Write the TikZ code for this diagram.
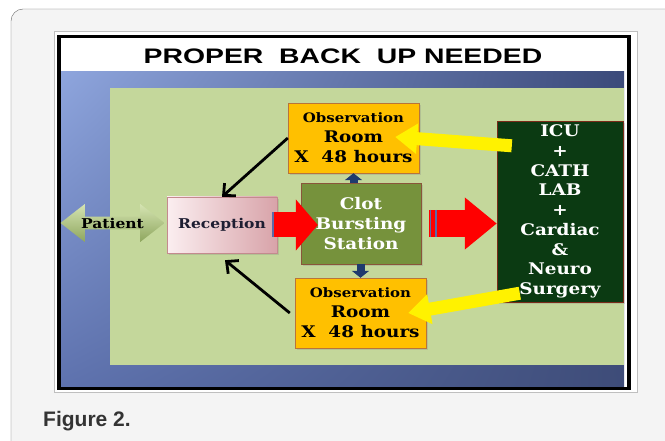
\documentclass[tikz,border=0pt]{standalone}
\usepackage{fontspec}
\setmainfont{DejaVu Serif}[FakeStretch=1.15]
\newfontfamily\headfont{Liberation Sans}[FakeStretch=1.35]
\newfontfamily\capfont{Liberation Sans}
\usetikzlibrary{arrows.meta,shapes.arrows,shadows,shadings,calc}
\definecolor{framebg}{HTML}{F4F4F4}
\definecolor{slidegreen}{HTML}{C4D79B}
\definecolor{blueUL}{HTML}{8EA5DD}
\definecolor{blueUR}{HTML}{3B4A7A}
\definecolor{blueLL}{HTML}{5E72AE}
\definecolor{blueLR}{HTML}{3E4C78}
\definecolor{obsorange}{HTML}{FFC000}
\definecolor{obsedge}{HTML}{B8743A}
\definecolor{clotgreen}{HTML}{76923C}
\definecolor{clotedge}{HTML}{8A553A}
\definecolor{icugreen}{HTML}{0B3A12}
\definecolor{icuedge}{HTML}{7A2A18}
\definecolor{recepleft}{HTML}{FBEEF0}
\definecolor{recepright}{HTML}{D8A3A9}
\definecolor{recepedge}{HTML}{C48A8E}
\definecolor{receptext}{HTML}{1E1E32}
\definecolor{patlight}{HTML}{D5E4B2}
\definecolor{patdark}{HTML}{8EA65E}
\definecolor{navyarrow}{HTML}{1F3A6E}
\definecolor{stripe}{HTML}{5C6AA8}
\tikzset{
  slidebox/.style={draw, align=center, inner sep=0pt, font=\bfseries\fontsize{16}{20}\selectfont,
    drop shadow={opacity=0.25, shadow xshift=2pt, shadow yshift=-2pt}},
  obsbox/.style={slidebox, draw=obsedge, fill=obsorange, minimum width=131pt, minimum height=70pt},
  redarrow/.style={red, line width=25pt, -{Triangle[length=22pt,width=50pt]}},
  yellowarrow/.style={yellow, line width=13pt, -{Triangle[length=22pt,width=29pt]}},
  navyblock/.style={navyarrow, line width=8pt, -{Triangle[length=7pt,width=17pt]}},
  backarrow/.style={black, line width=2.8pt, -{Straight Barb[length=9pt,width=17pt]}}
}
\begin{document}
\begin{tikzpicture}[x=1pt,y=-1pt]
  \useasboundingbox (0,0) rectangle (665,441);
  \clip (0,0) rectangle (665,441);
  % page frame
  \draw[black!60, fill=framebg, rounded corners=12pt] (11,9) rectangle (700,470);
  % slide
  \draw[black!25, fill=white] (54,31) rectangle (637,392);
  \shade[upper left=blueUL, upper right=blueUR, lower left=blueLL, lower right=blueLR]
    (61,72) rectangle (624,387);
  \draw[line width=3.5pt] (59,36.5) rectangle (629,388.5);
  \fill[slidegreen] (110,88) rectangle (624,365);
  \node[font=\headfont\bfseries\fontsize{21}{24}\selectfont] (title) at (343,56) {PROPER\ \ BACK\ \ UP NEEDED};
  % boxes
  \node[double arrow, double arrow head extend=11pt, double arrow tip angle=76, minimum height=104pt,
    minimum width=38pt, inner sep=0pt, top color=patlight, bottom color=patdark,
    font=\bfseries\fontsize{13.5}{15}\selectfont]
    (patient) at (112.5,223) {Patient};
  \node[slidebox, draw=recepedge, left color=recepleft, right color=recepright, minimum width=110pt,
    minimum height=56pt, font=\bfseries\fontsize{13.5}{16}\selectfont, text=receptext]
    (recep) at (222,225) {Reception};
  \node[slidebox, draw=clotedge, fill=clotgreen, text=white, minimum width=120pt, minimum height=81pt]
    (clot) at (361,223.5) {Clot\\Bursting\\Station};
  \node[obsbox] (obstop) at (353.5,138) {{\fontsize{13}{20}\selectfont Observation}\\Room\\X\ \ 48 hours};
  \node[obsbox] (obsbot) at (360.5,313) {{\fontsize{13}{20}\selectfont Observation}\\Room\\X\ \ 48 hours};
  \node[slidebox, draw=icuedge, fill=icugreen, text=white, minimum width=126pt, minimum height=181pt,
    font=\bfseries\fontsize{16}{19.7}\selectfont]
    (icu) at (560,211.5) {ICU\\+\\CATH\\LAB\\+\\Cardiac\\\&\\Neuro\\Surgery};
  % block arrows
  \draw[redarrow] ([xshift=-5pt]recep.east) -- ([xshift=17pt]recep.east -| clot.west);
  \draw[stripe, line width=2pt] ([xshift=-4pt,yshift=12.5pt]recep.east) -- ([xshift=-4pt,yshift=-12.5pt]recep.east);
  \draw[redarrow, line width=27pt, -{Triangle[length=32pt,width=50pt]}] ([xshift=8pt]clot.east) -- (clot.east -| icu.west);
  \draw[stripe, line width=1.5pt] ([xshift=9.5pt,yshift=13.5pt]clot.east) -- ([xshift=9.5pt,yshift=-13.5pt]clot.east);
  \draw[stripe, line width=1.5pt] ([xshift=15pt,yshift=13.5pt]clot.east) -- ([xshift=15pt,yshift=-13.5pt]clot.east);
  \draw[yellowarrow] ($(icu.north west)+(15,25)$) -- ($(obstop.east)+(-24,-1)$);
  \draw[yellowarrow] ($(icu.south west)+(23,-9)$) -- ($(obsbot.east)+(-18,0)$);
  \draw[navyblock] (obstop.south |- clot.north) -- (obstop.south);
  \draw[navyblock] (obsbot.north |- clot.south) -- (obsbot.north);
  % return arrows
  \draw[backarrow] (obstop.west) -- (recep.north);
  \draw[backarrow] ([xshift=-5pt]obsbot.west) -- ([shift={(3,7)}]recep.south);
  % caption
  \node[font=\capfont\bfseries\fontsize{21}{24}\selectfont, text=black!80, anchor=west, inner sep=0pt]
    (caption) at (43,421) {Figure 2.};
\end{tikzpicture}
\end{document}
